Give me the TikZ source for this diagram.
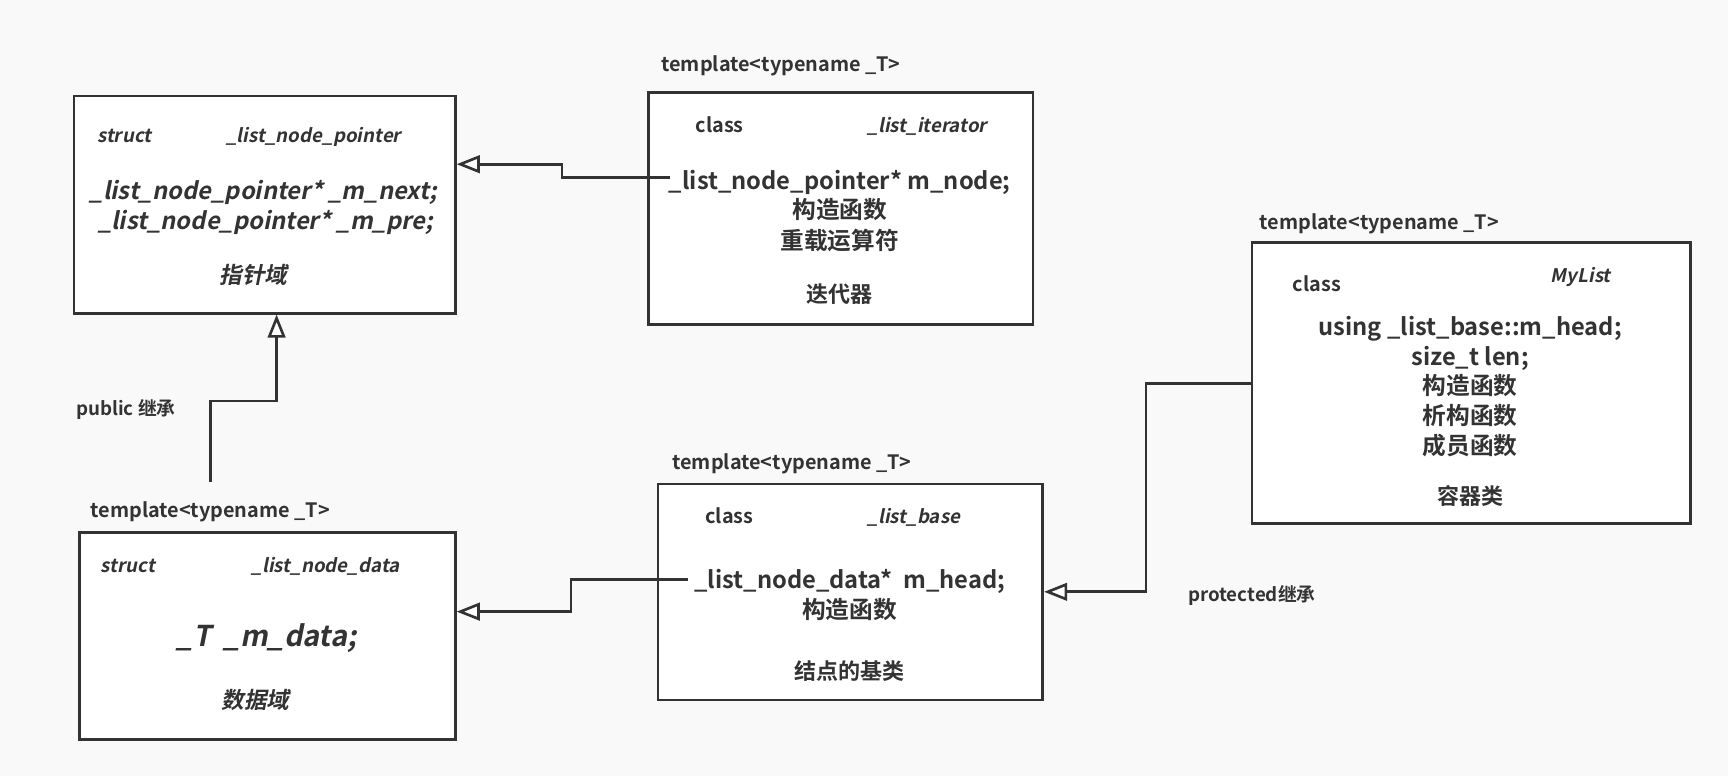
\documentclass[tikz,border=0pt]{standalone}
\usepackage{fontspec}
\setmainfont{Noto Sans CJK SC}[UprightFont={* Bold},BoldFont={* Bold},ItalicFont={* Bold},ItalicFeatures={FakeSlant=0.2}]
\usetikzlibrary{arrows.meta}
\definecolor{ink}{RGB}{51,51,51}
\definecolor{bg}{RGB}{249,249,249}
\begin{document}
\begin{tikzpicture}[x=1pt,y=-1pt,
  box/.style={draw=ink, line width=2.4pt, fill=white, anchor=north west, inner sep=0pt},
  txt/.style={text=ink, inner sep=0pt, yshift=-4.5pt},
  tpl/.style={txt, font=\fontsize{18}{22}\selectfont, anchor=mid west},
  kw/.style={txt, font=\fontsize{18}{22}\selectfont, anchor=mid west},
  kwi/.style={txt, font=\fontsize{17}{21}\selectfont\itshape, anchor=mid west},
  body/.style={txt, font=\fontsize{21.5}{26}\selectfont, anchor=mid},
  bodyi/.style={txt, font=\fontsize{21.5}{26}\selectfont\itshape, anchor=mid},
  capt/.style={txt, font=\fontsize{20}{24}\selectfont, anchor=mid},
  capti/.style={txt, font=\fontsize{20.5}{24}\selectfont\itshape, anchor=mid},
  lbl/.style={txt, font=\fontsize{17}{21}\selectfont, anchor=mid west},
  inh/.style={draw=ink, line width=2.4pt, -{Triangle[length=21pt,width=16pt,fill=white]}}
]
\useasboundingbox (0,0) rectangle (1568,704);
\fill[bg] (0,0) rectangle (1568,704);

% boxes
\node[box, minimum width=346pt, minimum height=197pt] (ptr) at (66,86) {};
\node[box, minimum width=349pt, minimum height=210pt] (iter) at (587,83) {};
\node[box, minimum width=398pt, minimum height=255pt] (mylist) at (1135,219) {};
\node[box, minimum width=341pt, minimum height=188pt] (data) at (71,482) {};
\node[box, minimum width=349pt, minimum height=196pt] (base) at (596,438) {};

% box 1: _list_node_pointer
\node[kwi] (p1) at (88,122) {struct};
\node[kwi] (p2) at (205,122) {\_list\_node\_pointer};
\node[bodyi] (p3) at (239,174) {\_list\_node\_pointer* \_m\_next;};
\node[bodyi] (p4) at (241,201) {\_list\_node\_pointer* \_m\_pre;};
\node[capti] (p5) at (230,250) {指针域};

% box 2: _list_iterator
\node[tpl] (i0) at (600,58) {template<typename \_T>};
\node[kw] (i1) at (631,113) {class};
\node[kwi] (i2) at (787,113) {\_list\_iterator};
\node[body] (i3) at (762,165) {\_list\_node\_pointer* m\_node;};
\node[body] (i4) at (762,191) {构造函数};
\node[body] (i5) at (762,219) {重载运算符};
\node[capt] (i6) at (762,267) {迭代器};

% box 3: MyList
\node[tpl] (m0) at (1143,201) {template<typename \_T>};
\node[kw] (m1) at (1173,257) {class};
\node[kwi] (m2) at (1407,249) {MyList};
\node[body] (m3) at (1334,297) {using \_list\_base::m\_head;};
\node[body] (m4) at (1334,324) {size\_t len;};
\node[body] (m5) at (1334,351) {构造函数};
\node[body] (m6) at (1334,378) {析构函数};
\node[body] (m7) at (1334,405) {成员函数};
\node[capt] (m8) at (1334,451) {容器类};

% box 4: _list_node_data
\node[tpl] (d0) at (82,462) {template<typename \_T>};
\node[kwi] (d1) at (91,512) {struct};
\node[kwi] (d2) at (228,512) {\_list\_node\_data};
\node[txt, font=\fontsize{26}{30}\selectfont\itshape, anchor=mid] (d3) at (242,579) {\_T\ \ \_m\_data;};
\node[capti] (d4) at (232,636) {数据域};

% box 5: _list_base
\node[tpl] (b0) at (610,419) {template<typename \_T>};
\node[kw] (b1) at (640,468) {class};
\node[kwi] (b2) at (787,468) {\_list\_base};
\node[body] (b3) at (771,527) {\_list\_node\_data*\ \ m\_head;};
\node[body] (b4) at (771,554) {构造函数};
\node[capt] (b5) at (771,609) {结点的基类};

% labels
\node[lbl] (l1) at (69,370) {public 继承};
\node[lbl] (l2) at (1078,539) {protected继承};

% connectors
\coordinate (a0) at (608,161);
\coordinate (a1) at (510,161);
\coordinate (a2) at (510,149);
\draw[inh] (a0) -- (a1) -- (a2) -- (ptr.east |- a2);

\coordinate (c0) at (191,437);
\coordinate (c1) at (191,364);
\coordinate (c2) at (251,364);
\draw[inh] (c0) -- (c1) -- (c2) -- (c2 |- ptr.south);

\coordinate (e0) at (624,526);
\coordinate (e1) at (518,526);
\coordinate (e2) at (518,555);
\draw[inh] (e0) -- (e1) -- (e2) -- (data.east |- e2);

\coordinate (f1) at (1040,348);
\coordinate (f2) at (1040,537);
\draw[inh] (mylist.west |- f1) -- (f1) -- (f2) -- (base.east |- f2);
\end{tikzpicture}
\end{document}
